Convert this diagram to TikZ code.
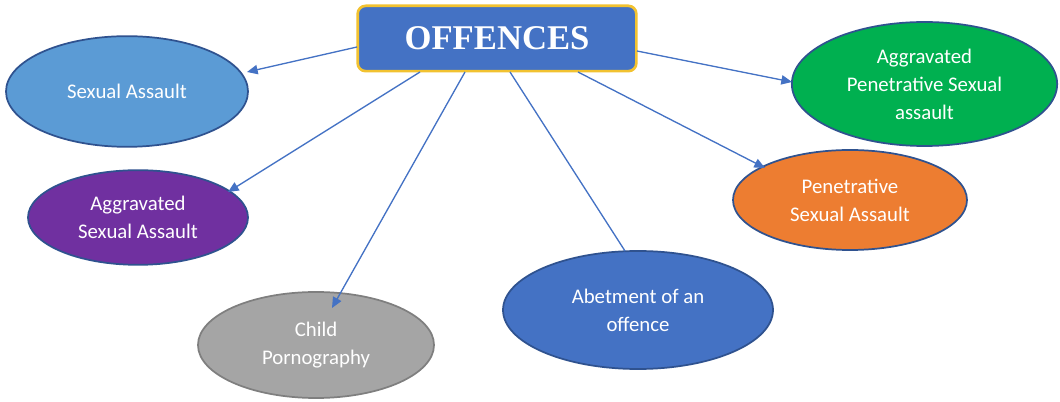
\documentclass[tikz,border=0pt]{standalone}
\usepackage{fontspec}
\setmainfont{Carlito}
\newfontfamily\titlefont{Liberation Serif}
\usetikzlibrary{shapes.geometric,arrows.meta,calc}
\definecolor{offblue}{HTML}{4472C4}
\definecolor{rimblue}{HTML}{2F528F}
\definecolor{boxgold}{HTML}{F2C230}
\definecolor{sablue}{HTML}{5B9BD5}
\definecolor{agpurple}{HTML}{7030A0}
\definecolor{cpgray}{HTML}{A5A5A5}
\definecolor{cprim}{HTML}{7F7F7F}
\definecolor{apgreen}{HTML}{00B050}
\definecolor{psorange}{HTML}{ED7D31}
\begin{document}
\begin{tikzpicture}[x=0.75pt, y=-0.75pt,
   bubble/.style={ellipse, draw=rimblue, line width=1.3pt, text=white, inner sep=0pt,
                  align=center, font=\fontsize{15.6}{21}\selectfont},
   link/.style={draw=offblue, line width=1pt},
   arrowlink/.style={link, -{Triangle[length=8pt,width=7pt]}}]

\useasboundingbox (0,0) rectangle (1060,402);

\node[draw=boxgold, line width=2pt, fill=offblue, rounded corners=6pt, inner sep=0pt,
      minimum width=209pt, minimum height=49pt, text=white,
      font=\titlefont\bfseries\fontsize{26}{30}\selectfont] (offences) at (497,38.5) {OFFENCES};

\node[bubble, fill=sablue, minimum width=181.5pt, minimum height=83pt] (sa) at (127,91.5) {Sexual Assault};
\node[bubble, fill=agpurple, minimum width=165pt, minimum height=71pt] (agsa) at (138,217.5) {Aggravated\\Sexual Assault};
\node[bubble, fill=cpgray, draw=cprim, minimum width=177pt, minimum height=79.5pt] (cp) at (316,345) {Child\\Pornography};
\node[bubble, fill=offblue, minimum width=202.5pt, minimum height=88.5pt] (abet) at (638,310) {Abetment of an\\offence};
\node[bubble, fill=apgreen, minimum width=199pt, minimum height=93pt] (apsa) at (924.5,84) {Aggravated\\Penetrative Sexual\\assault};
\node[bubble, fill=psorange, minimum width=175.5pt, minimum height=75pt] (psa) at (850,200) {Penetrative\\Sexual Assault};

% connectors from the title box
\draw[arrowlink] ($(offences)+(-140,8.5)$) -- ($(sa)+(120,-19.5)$);
\draw[arrowlink] ($(offences)+(-77,33.5)$) -- ($(agsa)+(90,-25.5)$);
\draw[arrowlink] ($(offences)+(-32,33.5)$) -- ($(cp)+(16,-37)$);
\draw[link] ($(offences)+(13,33.5)$) -- ($(abet)+(-13,-59)$);
\draw[arrowlink] ($(offences)+(140,12.5)$) -- ($(apsa)+(-132.5,-2)$);
\draw[arrowlink] ($(offences)+(81,33.5)$) -- ($(psa)+(-85,-32)$);

\end{tikzpicture}
\end{document}
